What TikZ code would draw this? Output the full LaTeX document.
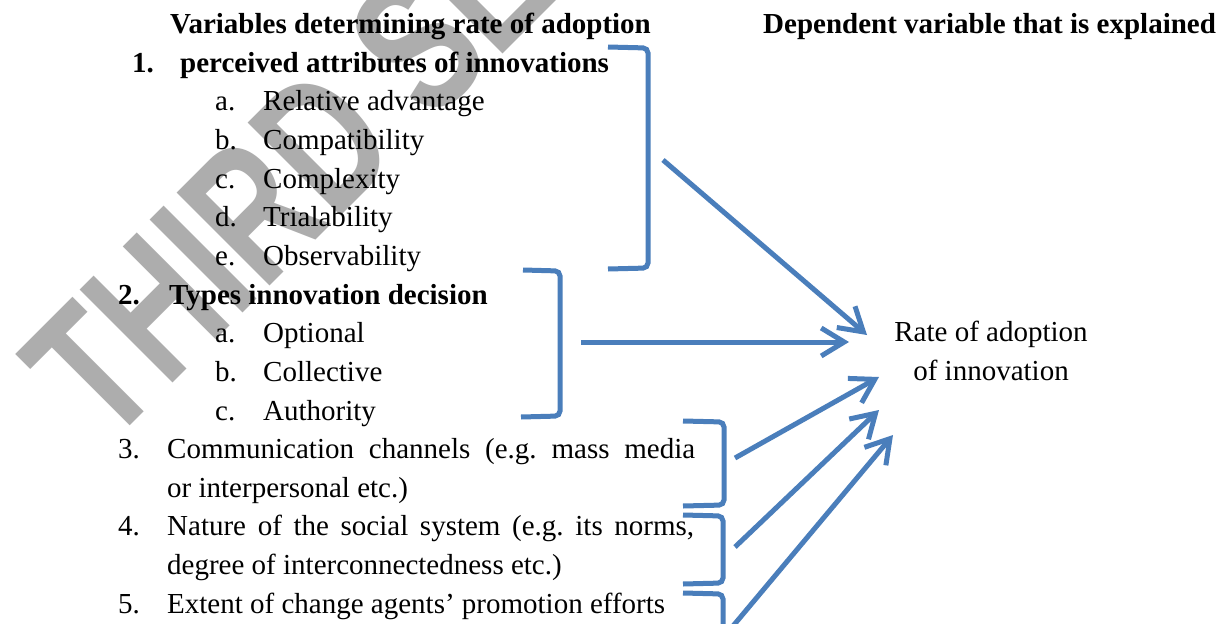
\documentclass[tikz,border=0pt]{standalone}
\usepackage{fontspec}
\usepackage{graphicx}
\setmainfont{Liberation Serif}
\newfontfamily\wmfont{Liberation Sans}
\usetikzlibrary{arrows.meta}
\definecolor{bblue}{RGB}{74,126,187}
\definecolor{wmgray}{RGB}{173,173,173}
\frenchspacing
\begin{document}
\begin{tikzpicture}[x=1pt,y=-1pt,
  txt/.style={anchor=base west, inner sep=0pt, font=\fontsize{29}{38.6}\selectfont},
  btxt/.style={txt, font=\fontsize{29}{38.6}\selectfont\bfseries},
  brk/.style={draw=bblue, line width=5pt, rounded corners=5pt},
  arr/.style={draw=bblue, line width=5pt, -{Straight Barb[length=23pt,width=28pt]}}]
\useasboundingbox (0,0) rectangle (1227,624);
\clip (0,0) rectangle (1227,624);
\fill[white] (0,0) rectangle (1227,624);
% watermark
\node[anchor=base west, inner sep=0pt, rotate=45, text=wmgray] (wm) at (107,449)
  {\scalebox{0.72}[1]{\fontsize{191}{191}\selectfont\wmfont\bfseries THIRD SE}};
% headings
\node[btxt] (h1) at (170,33) {Variables determining rate of adoption};
\node[btxt] (h2) at (763,33) {Dependent variable that is explained};
% item 1
\node[btxt] (n1) at (132,72) {1.};
\node[btxt] (t1) at (180,72) {perceived attributes of innovations};
\node[txt] (l1a) at (215,110.5) {a.}; \node[txt] (s1a) at (263,110.5) {Relative advantage};
\node[txt] (l1b) at (215,149) {b.}; \node[txt] (s1b) at (263,149) {Compatibility};
\node[txt] (l1c) at (215,188) {c.}; \node[txt] (s1c) at (263,188) {Complexity};
\node[txt] (l1d) at (215,226) {d.}; \node[txt] (s1d) at (263,226) {Trialability};
\node[txt] (l1e) at (215,265) {e.}; \node[txt] (s1e) at (263,265) {Observability};
% item 2
\node[btxt] (n2) at (118,304) {2.};
\node[btxt] (t2) at (169,304) {Types innovation decision};
\node[txt] (l2a) at (215,342) {a.}; \node[txt] (s2a) at (263,342) {Optional};
\node[txt] (l2b) at (215,381) {b.}; \node[txt] (s2b) at (263,381) {Collective};
\node[txt] (l2c) at (215,420) {c.}; \node[txt] (s2c) at (263,420) {Authority};
% items 3-5
\node[txt] (n3) at (118,458.5) {3.};
\node[txt] (t3a) at (167,458.5) {\makebox[528pt][s]{Communication channels (e.g. mass media}};
\node[txt] (t3b) at (167,497) {or interpersonal etc.)};
\node[txt] (n4) at (118,535.5) {4.};
\node[txt] (t4a) at (167,535.5) {\makebox[527pt][s]{Nature of the social system (e.g. its norms,}};
\node[txt] (t4b) at (167,574) {degree of interconnectedness etc.)};
\node[txt] (n5) at (118,613) {5.};
\node[txt] (t5) at (167,613) {Extent of change agents’ promotion efforts};
% target
\node[txt, anchor=base, align=center] (rate) at (991,380) {Rate of adoption\\of innovation};
% brackets
\draw[brk] (608,47) -- (648,48) -- (648,268) -- (608,269);
\draw[brk] (523,270) -- (560,271) -- (560,416) -- (521,417);
\draw[brk] (683,421) -- (724,422) -- (724,505) -- (683,506);
\draw[brk] (683,515) -- (723,516) -- (723,583) -- (683,584);
\draw[brk] (683,593) -- (723,594) -- (723,660);
% arrow coordinates
\coordinate (a1s) at (663,160); \coordinate (a1e) at (867,335);
\coordinate (a2s) at (581,342); \coordinate (a2e) at (849,342);
\coordinate (a3s) at (735,458); \coordinate (a3e) at (879,377);
\coordinate (a4s) at (735,547); \coordinate (a4e) at (879,410);
\coordinate (a5s) at (733,626); \coordinate (a5e) at (893,435);
\draw[arr] (a1s) -- (a1e);
\draw[arr] (a2s) -- (a2e);
\draw[arr] (a3s) -- (a3e);
\draw[arr] (a4s) -- (a4e);
\draw[arr] (a5s) -- (a5e);
\end{tikzpicture}
\end{document}
